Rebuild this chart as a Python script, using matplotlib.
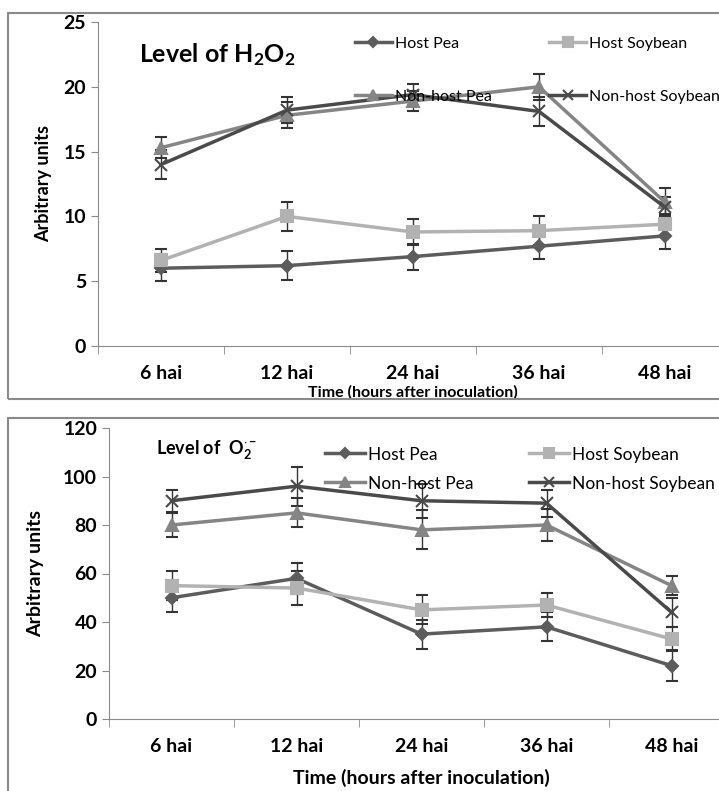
import numpy as np
import matplotlib.pyplot as plt
from matplotlib.patches import Rectangle
from matplotlib.lines import Line2D

plt.rcParams['font.family'] = ['Lato', 'DejaVu Sans']
plt.rcParams['mathtext.fontset'] = 'custom'
plt.rcParams['mathtext.rm'] = 'Lato:bold'
plt.rcParams['mathtext.it'] = 'Lato:bold'
plt.rcParams['mathtext.bf'] = 'Lato:bold'

times = ["6 hai", "12 hai", "24 hai", "36 hai", "48 hai"]
series_names = ["Host Pea", "Host Soybean", "Non-host Pea", "Non-host Soybean"]

# H2O2 panel
h2o2_host_pea = [6.0, 6.2, 6.9, 7.7, 8.5]
h2o2_host_pea_err = [1.0, 1.1, 1.0, 1.0, 1.0]
h2o2_host_soy = [6.6, 10.0, 8.8, 8.9, 9.4]
h2o2_host_soy_err = [0.9, 1.1, 1.0, 1.1, 0.8]
h2o2_nh_pea = [15.3, 17.8, 18.9, 20.0, 11.1]
h2o2_nh_pea_err = [0.8, 1.0, 0.8, 1.0, 1.1]
h2o2_nh_soy = [14.0, 18.2, 19.4, 18.1, 10.7]
h2o2_nh_soy_err = [1.1, 1.0, 0.8, 1.1, 0.8]

# O2- panel
o2_host_pea = [50, 58, 35, 38, 22]
o2_host_pea_err = [6, 6.5, 6, 6, 6.5]
o2_host_soy = [55, 54, 45, 47, 33]
o2_host_soy_err = [6, 7, 6, 5, 5]
o2_nh_pea = [80, 85, 78, 80, 55]
o2_nh_pea_err = [5, 6, 8, 6.5, 4]
o2_nh_soy = [90, 96, 90, 89, 44]
o2_nh_soy_err = [4.5, 8, 7, 5.5, 6]

colors = ["#5c5c5c", "#b2b2b2", "#858585", "#4a4a4a"]
markers = ["D", "s", "^", "x"]
msizes = [6, 9, 9, 9]

fig = plt.figure(figsize=(7.19, 7.91), dpi=100)

# panel borders
fig.patches.append(Rectangle((8/719, 1-399/791), 0.999, 386/791, transform=fig.transFigure,
                             fill=False, edgecolor="#8a8a8a", linewidth=1.5))
fig.patches.append(Rectangle((8/719, -0.01), 0.999, 1-418/791+0.01, transform=fig.transFigure,
                             fill=False, edgecolor="#8a8a8a", linewidth=1.5))

x = np.arange(len(times))


def draw_panel(ax, data, errs, ymax, ystep):
    for i in range(4):
        ax.errorbar(x, data[i], yerr=errs[i], color=colors[i], marker=markers[i],
                    markersize=msizes[i], linewidth=2.5, markeredgewidth=1.5,
                    ecolor="#333333", elinewidth=1, capsize=4, capthick=1)
    ax.set_xlim(-0.5, 4.5)
    ax.set_ylim(0, ymax)
    ax.set_yticks(np.arange(0, ymax + 1, ystep))
    ax.set_xticks(x)
    ax.set_xticklabels(times)
    ax.set_xticks(np.arange(-0.5, 5, 1), minor=True)
    ax.tick_params(axis="x", which="major", length=0, pad=14)
    ax.tick_params(axis="x", which="minor", length=6, color="#8a8a8a", direction="out")
    ax.tick_params(axis="y", length=5, color="#8a8a8a", direction="out")
    for s in ["top", "right"]:
        ax.spines[s].set_visible(False)
    for s in ["left", "bottom"]:
        ax.spines[s].set_color("#8a8a8a")
    for lab in ax.get_xticklabels() + ax.get_yticklabels():
        lab.set_fontweight("bold")
        lab.set_fontsize(14)


def legend_handles():
    hs = [Line2D([], [], color=colors[i], marker=markers[i], markersize=msizes[i] * 0.8,
                 linewidth=2.5, markeredgewidth=1.5) for i in range(4)]
    order = [0, 2, 1, 3]
    return [hs[i] for i in order], [series_names[i] for i in order]


ax1 = fig.add_axes([98/719, 1-346/791, 630/719, 324/791])
draw_panel(ax1, [h2o2_host_pea, h2o2_host_soy, h2o2_nh_pea, h2o2_nh_soy],
           [h2o2_host_pea_err, h2o2_host_soy_err, h2o2_nh_pea_err, h2o2_nh_soy_err], 25, 5)
ax1.set_ylabel("Arbitrary units", fontsize=13, fontweight="bold", labelpad=8)
ax1.set_xlabel("Time (hours after inoculation)", fontsize=11.5, fontweight="bold", labelpad=2)
ax1.text(0.065, 0.9, "Level of H$_2$O$_2$", transform=ax1.transAxes, fontsize=18,
         fontweight="bold", va="center")
h, l = legend_handles()
ax1.legend(h, l, ncol=2, frameon=False,
           loc="upper left", bbox_to_anchor=(0.385, 1.0), fontsize=11.5,
           labelspacing=2.45, columnspacing=3.6, handlelength=2.3, handletextpad=0.2)

ax2 = fig.add_axes([109/719, 1-719/791, 625/719, 291/791])
draw_panel(ax2, [o2_host_pea, o2_host_soy, o2_nh_pea, o2_nh_soy],
           [o2_host_pea_err, o2_host_soy_err, o2_nh_pea_err, o2_nh_soy_err], 120, 20)
ax2.set_ylabel("Arbitrary units", fontsize=14, fontweight="bold", labelpad=14)
ax2.set_xlabel("Time (hours after inoculation)", fontsize=14, fontweight="bold", labelpad=10)
ax2.text(0.075, 0.925, "Level of  O$_2^{\\cdot-}$", transform=ax2.transAxes, fontsize=13,
         fontweight="bold", va="center")
h, l = legend_handles()
ax2.legend(h, l, ncol=2, frameon=False,
           loc="upper left", bbox_to_anchor=(0.32, 0.99), fontsize=12.5,
           labelspacing=0.75, columnspacing=3.2, handlelength=2.3, handletextpad=0.2)

fig.savefig("out.png", dpi=100)
